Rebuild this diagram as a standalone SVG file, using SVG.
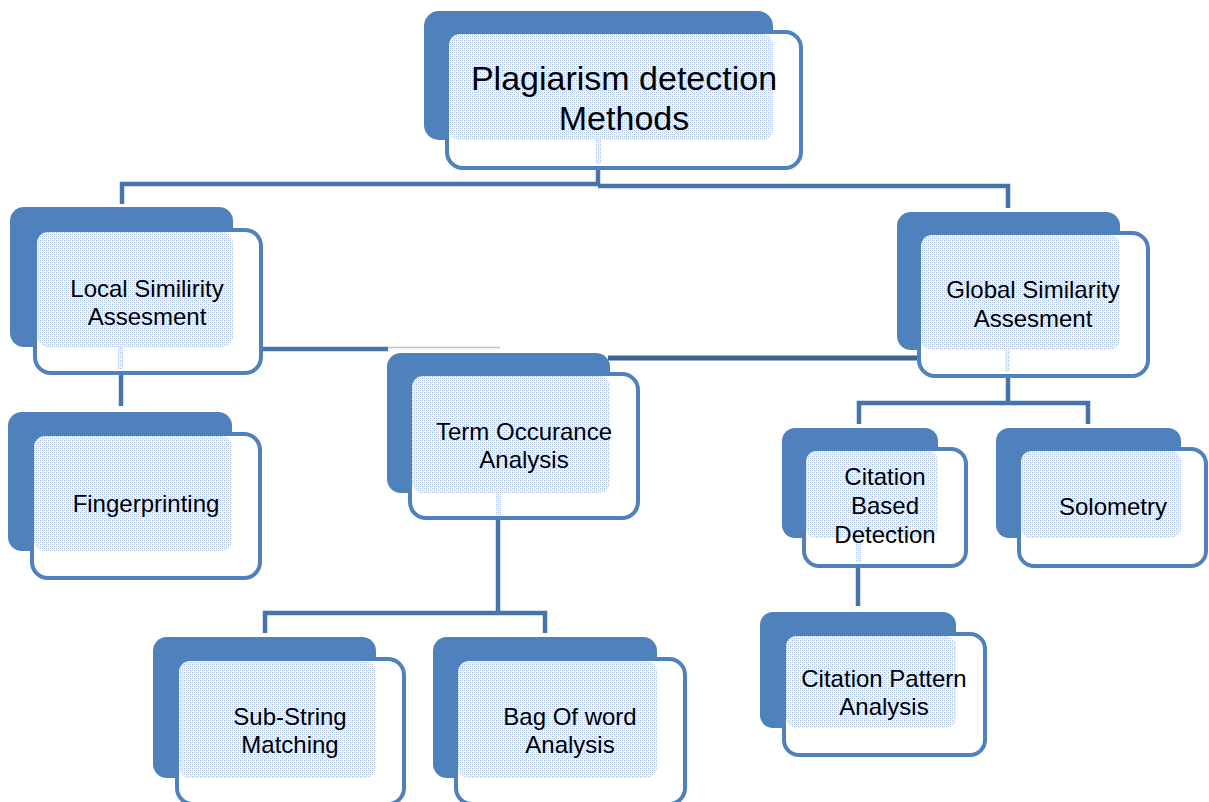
<svg xmlns="http://www.w3.org/2000/svg" width="1209" height="802" viewBox="0 0 1209 802">
<defs>
<pattern id="dots" width="4" height="4" patternUnits="userSpaceOnUse">
<rect width="4" height="4" fill="#eef3fa"/>
<rect x="0" y="0" width="1" height="1" fill="#a9c0df"/>
<rect x="2" y="2" width="1" height="1" fill="#a9c0df"/>
<rect x="2" y="0" width="1" height="1" fill="#cfdcee"/>
<rect x="0" y="2" width="1" height="1" fill="#cfdcee"/>
</pattern>
</defs>
<style>
.back{fill:#4f81bd}
.front{fill:#ffffff;stroke:#4f81bd;stroke-width:4}
.ov{fill:url(#dots)}
.conn{fill:none;stroke:#4674ab;stroke-width:4.5}
.dark{fill:none;stroke:#3d6190;stroke-width:5}
.lbl{font-family:"Liberation Sans",Arial,sans-serif;font-size:24px;fill:#000;text-anchor:middle}
.big{font-size:34px}
</style>
<g id="connectors">
<path class="conn" d="M122,204 V184 H598 V168"/>
<path class="conn" d="M598,186 H1008 V208"/>
<path class="conn" d="M121,375 V406"/>
<path class="conn" d="M261,349 H388"/>
<path d="M388,347.5 H500" fill="none" stroke="#b3c6df" stroke-width="1.5"/>
<path class="dark" d="M608,358 H918"/>
<path class="conn" d="M1008,378 V403"/>
<path class="conn" d="M859,424 V403 H1088 V424"/>
<path class="conn" d="M858,568 V606"/>
<path class="conn" d="M498,520 V613"/>
<path class="conn" d="M265,633 V613 H545 V633"/>
</g>
<g id="n-top">
<rect class="back" x="424" y="11" width="349" height="129" rx="15"/>
<rect class="front" x="447" y="32" width="354" height="136" rx="16"/>
<rect class="ov" x="449" y="34" width="324" height="106" rx="11"/>
<rect class="ov" x="596" y="140" width="5" height="24"/>
<text class="lbl big" x="624" y="90">Plagiarism detection</text>
<text class="lbl big" x="624" y="130">Methods</text>
</g>
<g id="n-local">
<rect class="back" x="10" y="207" width="223" height="140" rx="14"/>
<rect class="front" x="35" y="230" width="226" height="143" rx="16"/>
<rect class="ov" x="37" y="232" width="196" height="115" rx="11"/>
<rect class="ov" x="118" y="347" width="5" height="22"/>
<text class="lbl" x="147" y="297">Local Similirity</text>
<text class="lbl" x="147" y="325">Assesment</text>
</g>
<g id="n-global">
<rect class="back" x="897" y="212" width="223" height="138" rx="14"/>
<rect class="front" x="919" y="233" width="229" height="143" rx="16"/>
<rect class="ov" x="921" y="235" width="199" height="115" rx="11"/>
<rect class="ov" x="1005" y="350" width="5" height="22"/>
<text class="lbl" x="1033" y="298">Global Similarity</text>
<text class="lbl" x="1033" y="327">Assesment</text>
</g>
<g id="n-term">
<rect class="back" x="387" y="353" width="223" height="140" rx="14"/>
<rect class="front" x="410" y="374" width="228" height="144" rx="16"/>
<rect class="ov" x="412" y="376" width="198" height="117" rx="11"/>
<rect class="ov" x="496" y="493" width="5" height="22"/>
<text class="lbl" x="524" y="440">Term Occurance</text>
<text class="lbl" x="524" y="468">Analysis</text>
</g>
<g id="n-finger">
<rect class="back" x="8" y="412" width="224" height="139" rx="14"/>
<rect class="front" x="32" y="434" width="228" height="144" rx="16"/>
<rect class="ov" x="34" y="436" width="198" height="115" rx="11"/>
<text class="lbl" x="146" y="512">Fingerprinting</text>
</g>
<g id="n-citbased">
<rect class="back" x="782" y="428" width="156" height="110" rx="13"/>
<rect class="front" x="804" y="449" width="162" height="117" rx="15"/>
<rect class="ov" x="806" y="451" width="132" height="87" rx="10"/>
<rect class="ov" x="856" y="538" width="5" height="24"/>
<text class="lbl" x="885" y="485">Citation</text>
<text class="lbl" x="885" y="514">Based</text>
<text class="lbl" x="885" y="543">Detection</text>
</g>
<g id="n-solometry">
<rect class="back" x="996" y="428" width="185" height="110" rx="13"/>
<rect class="front" x="1019" y="449" width="187" height="117" rx="15"/>
<rect class="ov" x="1021" y="451" width="160" height="87" rx="10"/>
<text class="lbl" x="1113" y="515">Solometry</text>
</g>
<g id="n-citpattern">
<rect class="back" x="760" y="612" width="196" height="116" rx="13"/>
<rect class="front" x="784" y="634" width="201" height="121" rx="15"/>
<rect class="ov" x="786" y="636" width="170" height="92" rx="10"/>
<text class="lbl" x="884" y="687">Citation Pattern</text>
<text class="lbl" x="884" y="715">Analysis</text>
</g>
<g id="n-substring">
<rect class="back" x="153" y="637" width="223" height="141" rx="14"/>
<rect class="front" x="177" y="659" width="227" height="145" rx="16"/>
<rect class="ov" x="179" y="661" width="197" height="117" rx="11"/>
<text class="lbl" x="290" y="725">Sub-String</text>
<text class="lbl" x="290" y="753">Matching</text>
</g>
<g id="n-bag">
<rect class="back" x="433" y="637" width="224" height="141" rx="14"/>
<rect class="front" x="456" y="659" width="229" height="145" rx="16"/>
<rect class="ov" x="458" y="661" width="199" height="117" rx="11"/>
<text class="lbl" x="570" y="725">Bag Of word</text>
<text class="lbl" x="570" y="753">Analysis</text>
</g>
</svg>
